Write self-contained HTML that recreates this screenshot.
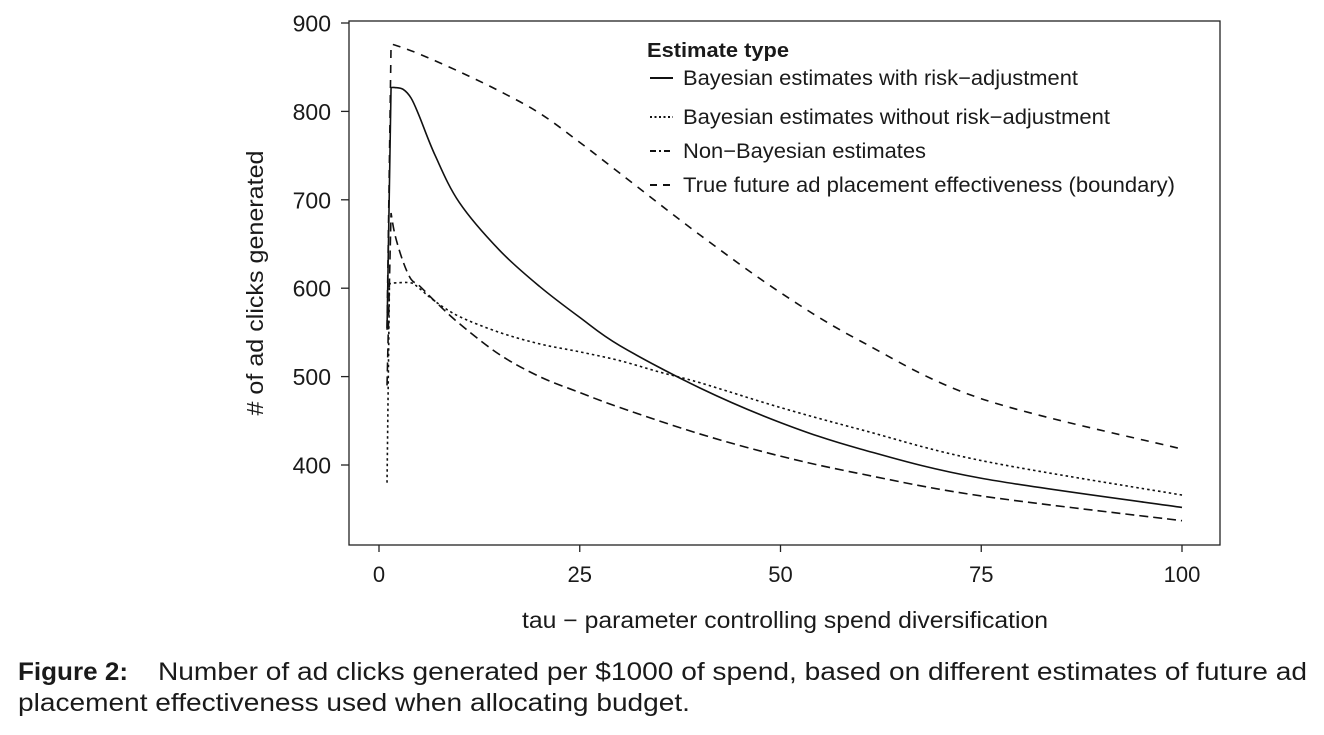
<!DOCTYPE html>
<html><head><meta charset="utf-8">
<style>
html,body{margin:0;padding:0;background:#fff;}
body{width:1324px;height:730px;overflow:hidden;font-family:"Liberation Sans",Arial,sans-serif;}
svg text{font-family:"Liberation Sans",Arial,sans-serif;fill:#1a1a1a;}
</style></head>
<body>
<svg id="chart" width="1324" height="730" viewBox="0 0 1324 730">
<rect x="349" y="21" width="871" height="524" fill="none" stroke="#222" stroke-width="1.3"/>
<g id="yaxis"></g>
<g id="xaxis"></g>
<g id="series"></g>
<text transform="translate(263,283) rotate(-90)" text-anchor="middle" font-size="23" textLength="265" lengthAdjust="spacingAndGlyphs"># of ad clicks generated</text>
<text x="522" y="628" font-size="23" textLength="526" lengthAdjust="spacingAndGlyphs">tau − parameter controlling spend diversification</text>
<g>
<text x="647" y="57" font-size="20" font-weight="bold" textLength="142" lengthAdjust="spacingAndGlyphs">Estimate type</text>
<line x1="650" y1="78" x2="673" y2="78" stroke="#111" stroke-width="2"/>
<text x="683" y="85" font-size="21" textLength="395" lengthAdjust="spacingAndGlyphs">Bayesian estimates with risk−adjustment</text>
<line x1="650" y1="117" x2="673" y2="117" stroke="#111" stroke-width="2" stroke-dasharray="2,2.5"/>
<text x="683" y="124" font-size="21" textLength="427" lengthAdjust="spacingAndGlyphs">Bayesian estimates without risk−adjustment</text>
<line x1="650" y1="151" x2="673" y2="151" stroke="#111" stroke-width="2" stroke-dasharray="6,3,2,3"/>
<text x="683" y="158" font-size="21" textLength="243" lengthAdjust="spacingAndGlyphs">Non−Bayesian estimates</text>
<line x1="650" y1="185" x2="673" y2="185" stroke="#111" stroke-width="2" stroke-dasharray="7,6"/>
<text x="683" y="192" font-size="21" textLength="492" lengthAdjust="spacingAndGlyphs">True future ad placement effectiveness (boundary)</text>
</g>
<text x="18" y="680" font-size="25" font-weight="bold" textLength="110" lengthAdjust="spacingAndGlyphs">Figure 2:</text>
<text x="158" y="680" font-size="25" textLength="1149" lengthAdjust="spacingAndGlyphs">Number of ad clicks generated per $1000 of spend, based on different estimates of future ad</text>
<text x="18" y="711" font-size="25" textLength="672" lengthAdjust="spacingAndGlyphs">placement effectiveness used when allocating budget.</text>
</svg>
<script>
const yTicks=[400,500,600,700,800,900];
const xTicks=[0,25,50,75,100];
const riskX=[1,1.5,2,3,4,5,7,10,15,20,25,30,40,50,60,75,100];
const riskY=[553,827,827,825,815,795,750,697,643,602,567,535,487,448,418,385,352];
const noRiskX=[1,1.3,2,4,5,7,10,15,20,25,30,35,40,50,60,75,100];
const noRiskY=[380,605,606,606,600,585,568,550,537,528,518,505,493,465,440,405,366];
const nonBayesX=[1,1.5,2,3,4,5,7,10,15,20,25,30,40,50,60,75,100];
const nonBayesY=[490,685,660,630,610,603,585,560,525,500,482,465,435,410,390,365,337];
const trueX=[1,1.5,2,5,10,15,20,25,30,40,50,60,75,100];
const trueY=[555,875,875,865,845,823,798,765,730,660,595,540,475,418];
const NS="http://www.w3.org/2000/svg";
const sx=v=>379+v*8.03;
const sy=v=>23+(900-v)*0.884;
const ya=document.getElementById('yaxis'),xa=document.getElementById('xaxis'),sg=document.getElementById('series');
yTicks.forEach(t=>{
  const l=document.createElementNS(NS,'line');
  
  
  l.setAttribute('x1',341);l.setAttribute('x2',349);l.setAttribute('y1',sy(t));l.setAttribute('y2',sy(t));l.setAttribute('stroke','#222');l.setAttribute('stroke-width','1.3');
  ya.appendChild(l);
  const tx=document.createElementNS(NS,'text');
  
  
  tx.setAttribute('x',331);tx.setAttribute('y',sy(t)+8.5);tx.setAttribute('text-anchor','end');tx.setAttribute('font-size','23');
  tx.textContent=t;ya.appendChild(tx);
});
xTicks.forEach(t=>{
  const l=document.createElementNS(NS,'line');
  
  
  l.setAttribute('x1',sx(t));l.setAttribute('x2',sx(t));l.setAttribute('y1',545);l.setAttribute('y2',552);l.setAttribute('stroke','#222');l.setAttribute('stroke-width','1.3');
  xa.appendChild(l);
  const tx=document.createElementNS(NS,'text');
  
  
  tx.setAttribute('x',sx(t));tx.setAttribute('y',582);tx.setAttribute('text-anchor','middle');tx.setAttribute('font-size','22');
  tx.textContent=t;xa.appendChild(tx);
});
function pathD(xs,ys){
  const p=xs.map((x,i)=>[sx(x),sy(ys[i])]);
  let d='M'+p[0][0]+','+p[0][1]+' L'+p[1][0]+','+p[1][1];
  for(let i=1;i<p.length-1;i++){
    const p0=p[i-1<1?1:i-1],p1=p[i],p2=p[i+1],p3=p[i+2]||p[i+1];
    const c1=[p1[0]+(p2[0]-p0[0])/6,p1[1]+(p2[1]-p0[1])/6];
    const c2=[p2[0]-(p3[0]-p1[0])/6,p2[1]-(p3[1]-p1[1])/6];
    d+=' C'+c1[0]+','+c1[1]+' '+c2[0]+','+c2[1]+' '+p2[0]+','+p2[1];
  }
  return d;
}
function addSeries(xs,ys,dash,name){
  const pa=document.createElementNS(NS,'path');
  
  
  pa.setAttribute('d',pathD(xs,ys));pa.setAttribute('fill','none');pa.setAttribute('stroke','#111');pa.setAttribute('stroke-width','1.6');
  if(dash)pa.setAttribute('stroke-dasharray',dash);
  sg.appendChild(pa);
}
addSeries(trueX,trueY,'8,7','line-true-effectiveness');
addSeries(nonBayesX,nonBayesY,'9,5','line-non-bayesian');
addSeries(noRiskX,noRiskY,'2.5,3','line-bayes-no-risk');
addSeries(riskX,riskY,null,'line-bayes-risk');
</script>
</body></html>
